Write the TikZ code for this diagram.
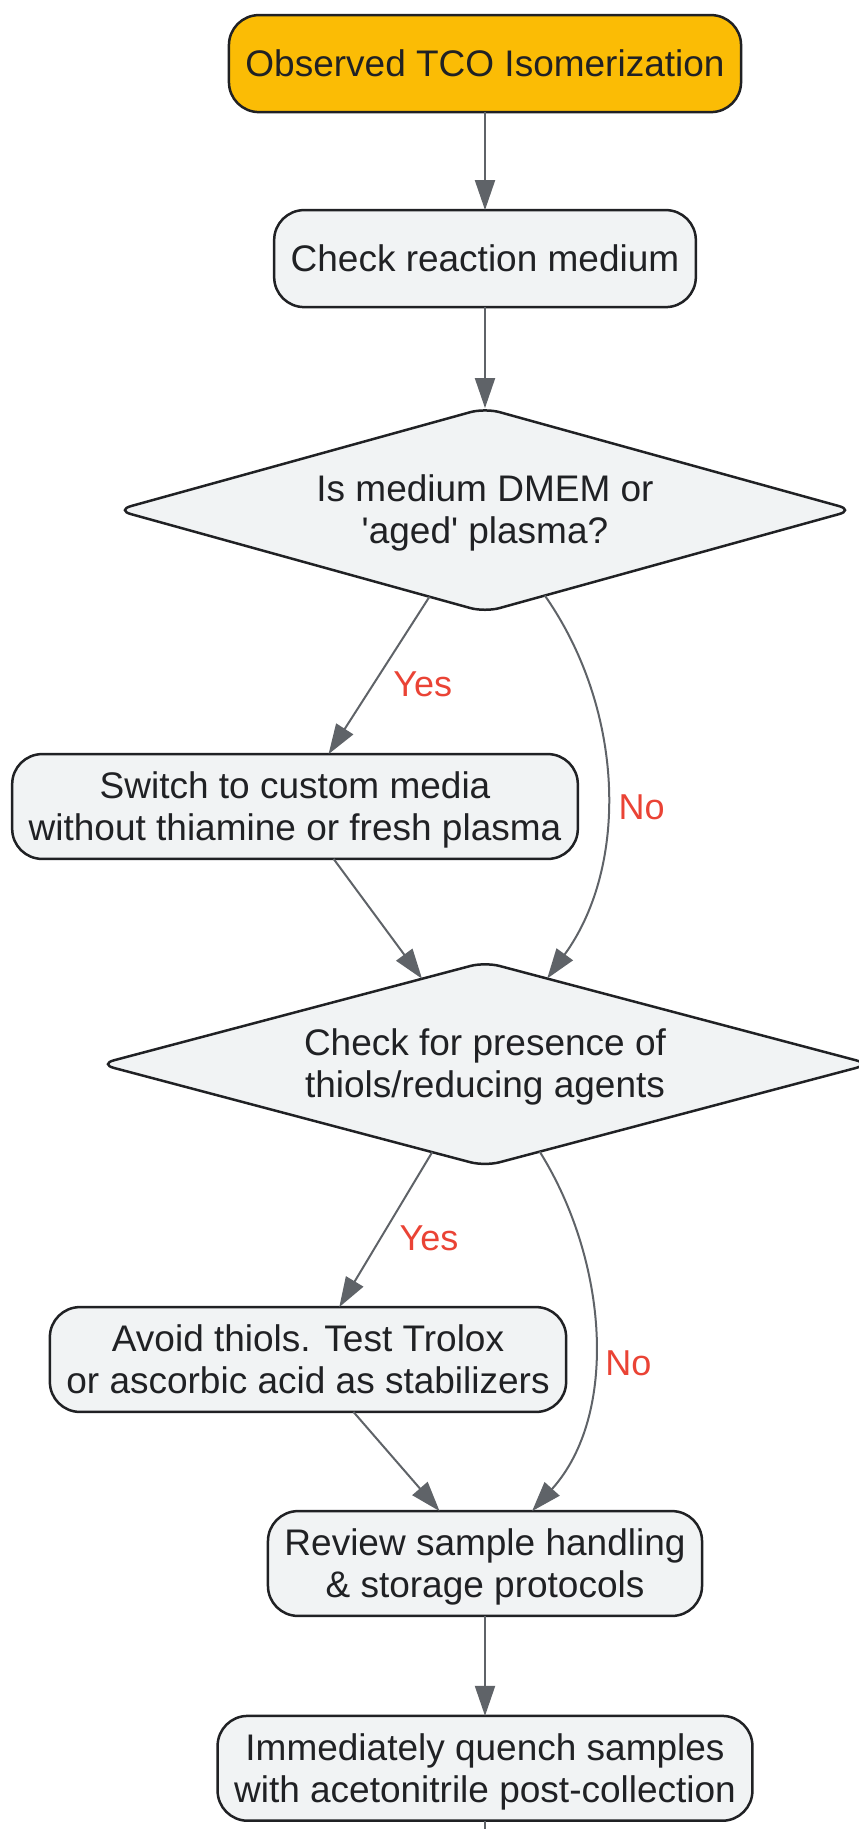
\documentclass[tikz,border=0pt]{standalone}
\usepackage{fontspec}
\setmainfont{Liberation Sans}
\usetikzlibrary{arrows.meta, positioning, shapes.geometric}
\definecolor{tcoorange}{HTML}{FBBC05}
\definecolor{tcogrey}{HTML}{F1F3F4}
\definecolor{tcoline}{HTML}{5F6368}
\definecolor{tcotext}{HTML}{202124}
\definecolor{tcored}{HTML}{EA4335}
\newcommand{\linestrut}{\rule[-8.1pt]{0pt}{41.8pt}}
\tikzstyle{flow}=[>={Triangle[length=30pt,width=20pt]}, font=\fontsize{37}{42}\selectfont, text=tcotext]
\tikzstyle{stepbox}=[draw=tcotext, line width=2.5pt, fill=tcogrey, rounded corners=30pt, align=center, inner xsep=16.5pt, inner ysep=10.5pt, outer sep=0pt, minimum height=97pt]
\tikzstyle{decision}=[stepbox, diamond, shape aspect=3.6, rounded corners=15pt, inner sep=0pt, minimum height=204pt]
\tikzstyle{link}=[draw=tcoline, line width=2pt]
\tikzstyle{answer}=[text=tcored, font=\fontsize{36}{42}\selectfont]

\begin{document}
\begin{tikzpicture}[flow, auto]
  \useasboundingbox (0,0) rectangle (859pt,-1829pt);
  \node[stepbox,fill=tcoorange] (0) at (485pt,-63.6pt) {\linestrut Observed TCO Isomerization};
  \node[stepbox] (1) [below=98pt of 0] {\linestrut Check reaction medium};
  \node[decision,minimum width=737pt] (2) [below=101pt of 1] {\linestrut Is medium DMEM or\\\linestrut\textquotesingle aged\textquotesingle{} plasma?};
  \node[stepbox] (3) [below=142pt of 2, xshift=-190pt] {\linestrut Switch to custom media\\\linestrut without thiamine or fresh plasma};
  \node[decision,minimum width=771pt] (4) [below=350pt of 2] {\linestrut Check for presence of\\\linestrut thiols/reducing agents};
  \node[stepbox] (5) [below=141pt of 4, xshift=-177pt] {\linestrut Avoid thiols. Test Trolox\\\linestrut or ascorbic acid as stabilizers};
  \node[stepbox] (6) [below=345pt of 4] {\linestrut Review sample handling\\\linestrut\& storage protocols};
  \node[stepbox] (7) [below=100pt of 6] {\linestrut Immediately quench samples\\\linestrut with acetonitrile post-collection};
  \coordinate[below=8pt of 7] (8);
  \path[->] (0) edge[link] (1);
  \path[->] (1) edge[link] (2);
  \path[->] (2) edge[link] node[answer,pos=.45,xshift=5pt] {Yes} (3);
  \path[->] (2) edge[link, out=-55, in=54, looseness=.93] node[answer,pos=.55,anchor=west,xshift=8pt] {No} (4);
  \path[->] (3) edge[link] (4);
  \path[->] (4) edge[link] node[answer,pos=.45,xshift=5pt] {Yes} (5);
  \path[->] (4) edge[link, out=-58, in=48, looseness=.92] node[answer,pos=.57,anchor=west,xshift=8pt] {No} (6);
  \path[->] (5) edge[link] (6);
  \path[->] (6) edge[link] (7);
  \path (7) edge[link] (8);
\end{tikzpicture}
\end{document}
